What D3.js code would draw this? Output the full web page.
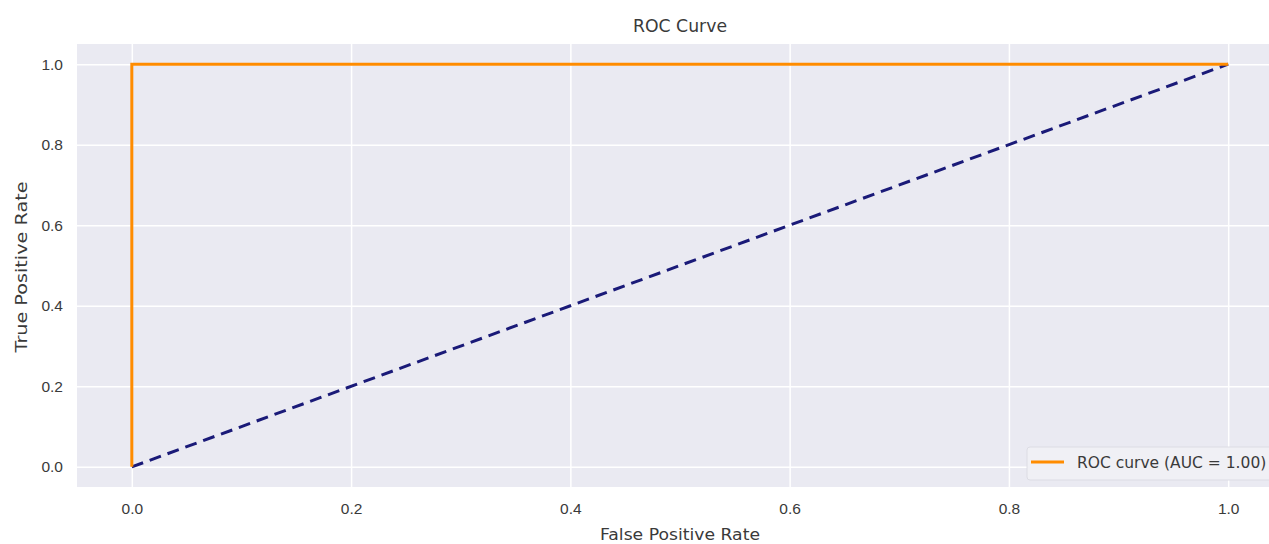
<!DOCTYPE html>
<html>
<head>
<meta charset="utf-8">
<script src="https://cdnjs.cloudflare.com/ajax/libs/d3/7.8.5/d3.min.js"></script>
<style>
    body { margin: 0; background: #fff; overflow: hidden; }
    svg { display: block; font-family: "DejaVu Sans", sans-serif; }
</style>
</head>
<body>
<div id="chart"></div>
<script>
// ROC data
const fpr = [0.0, 0.0, 1.0];
const tpr = [0.0, 1.0, 1.0];
const chanceX = [0.0, 1.0];
const chanceY = [0.0, 1.0];
const xTicks = [0.0, 0.2, 0.4, 0.6, 0.8, 1.0];
const yTicks = [0.0, 0.2, 0.4, 0.6, 0.8, 1.0];
const legendLabel = 'ROC curve (AUC = 1.00)';

const W = 1269, H = 544;
const margin = { top: 44, right: -14, bottom: 57, left: 77 };
const width = W - margin.left - margin.right;
const height = H - margin.top - margin.bottom;

const svg = d3.select('#chart')
    .append('svg')
    .attr('width', W)
    .attr('height', H);

const g = svg.append('g')
    .attr('transform', `translate(${margin.left},${margin.top})`);

const x = d3.scaleLinear().domain([-0.05, 1.05]).range([0, width]);
const y = d3.scaleLinear().domain([-0.05, 1.05]).range([height, 0]);

// background
g.append('rect')
    .attr('width', width)
    .attr('height', height)
    .attr('fill', '#eaeaf2');

// grid
g.append('g')
    .attr('transform', `translate(0,${height})`)
    .call(d3.axisBottom(x).tickValues(xTicks).tickSize(-height).tickFormat(''))
    .call(a => a.select('.domain').remove())
    .call(a => a.selectAll('line').attr('stroke', '#fff').attr('stroke-width', 1.5));

g.append('g')
    .call(d3.axisLeft(y).tickValues(yTicks).tickSize(-width).tickFormat(''))
    .call(a => a.select('.domain').remove())
    .call(a => a.selectAll('line').attr('stroke', '#fff').attr('stroke-width', 1.5));

// tick labels
g.append('g')
    .attr('transform', `translate(0,${height})`)
    .call(d3.axisBottom(x).tickValues(xTicks).tickSize(0).tickPadding(16).tickFormat(d3.format('.1f')))
    .call(a => a.select('.domain').remove())
    .call(a => a.selectAll('text').attr('fill', '#3a3a3a').attr('font-size', '15.5px').attr('font-family', null));

g.append('g')
    .call(d3.axisLeft(y).tickValues(yTicks).tickSize(0).tickPadding(14).tickFormat(d3.format('.1f')))
    .call(a => a.select('.domain').remove())
    .call(a => a.selectAll('text').attr('fill', '#3a3a3a').attr('font-size', '15.5px').attr('font-family', null));

// lines
const line = d3.line().x(d => x(d[0])).y(d => y(d[1]));

g.append('path')
    .datum(chanceX.map((v, i) => [v, chanceY[i]]))
    .attr('d', line)
    .attr('fill', 'none')
    .attr('stroke', '#1a1a78')
    .attr('stroke-width', 3)
    .attr('stroke-dasharray', '12,7');

g.append('path')
    .datum(fpr.map((v, i) => [v, tpr[i]]))
    .attr('d', line)
    .attr('fill', 'none')
    .attr('stroke', '#ff8c00')
    .attr('stroke-width', 3);

// legend
const legend = g.append('g')
    .attr('transform', `translate(${1027 - margin.left},${447 - margin.top})`);

legend.append('rect')
    .attr('width', 270)
    .attr('height', 33)
    .attr('rx', 3)
    .attr('fill', '#f0f0f5')
    .attr('stroke', '#dcdce4');

legend.append('line')
    .attr('x1', 4).attr('x2', 37)
    .attr('y1', 15).attr('y2', 15)
    .attr('stroke', '#ff8c00')
    .attr('stroke-width', 3);

legend.append('text')
    .attr('x', 50)
    .attr('y', 21)
    .attr('fill', '#3a3a3a')
    .attr('font-size', '15.5px')
    .text(legendLabel);

// title and axis labels
svg.append('text')
    .attr('x', 680)
    .attr('y', 32)
    .attr('text-anchor', 'middle')
    .attr('fill', '#3a3a3a')
    .attr('font-size', '17px')
    .attr('textLength', 94)
    .attr('lengthAdjust', 'spacingAndGlyphs')
    .text('ROC Curve');

svg.append('text')
    .attr('x', 680)
    .attr('y', 540)
    .attr('text-anchor', 'middle')
    .attr('fill', '#3a3a3a')
    .attr('font-size', '16.5px')
    .attr('textLength', 160)
    .attr('lengthAdjust', 'spacingAndGlyphs')
    .text('False Positive Rate');

svg.append('text')
    .attr('transform', `translate(27,267) rotate(-90)`)
    .attr('text-anchor', 'middle')
    .attr('fill', '#3a3a3a')
    .attr('font-size', '16.5px')
    .attr('textLength', 171)
    .attr('lengthAdjust', 'spacingAndGlyphs')
    .text('True Positive Rate');
</script>
</body>
</html>
